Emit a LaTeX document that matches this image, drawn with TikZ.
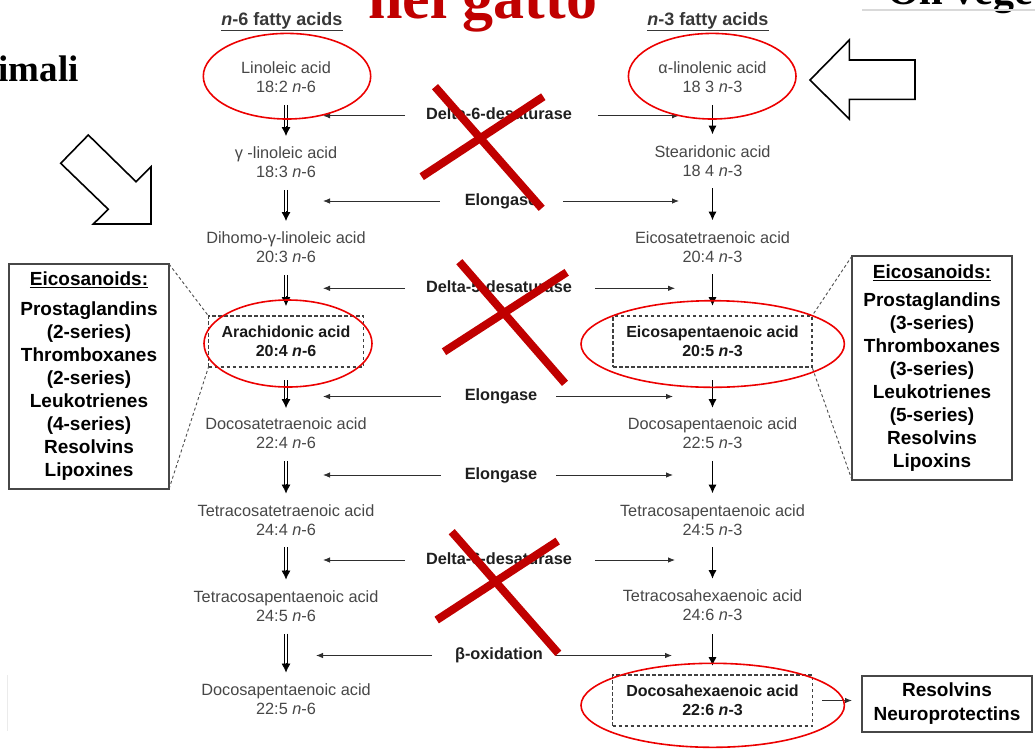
\documentclass[tikz,border=0pt]{standalone}
\usepackage{fontspec}
\setmainfont{Liberation Sans}
\newfontfamily\titlefont{Liberation Serif}
\usetikzlibrary{arrows.meta,calc}
\definecolor{xred}{RGB}{192,0,0}
\definecolor{ringred}{RGB}{236,0,0}
% from, to, start shorten, end shorten, shaft end shorten, tip start
\newcommand\dblarr[6]{%
  \draw[dshaft, shorten <=#3pt, shorten >=#5pt] (#1.south) -- (#2.north);
  \draw[dtip, shorten >=#4pt] ($(#2.north)!#6pt!(#1.south)$) -- (#2.north);}
\newcommand\sglarr[4]{\draw[sarrow, shorten <=#3pt, shorten >=#4pt] (#1.south) -- (#2.north);}
\begin{document}
\begin{tikzpicture}[x=1pt,y=-1pt,
 acid/.style={align=center,font=\fontsize{16.3}{19}\selectfont,text=black!72,inner sep=0pt,outer sep=0pt},
 acidbox/.style={align=center,font=\fontsize{16}{19.5}\selectfont\bfseries,text=black!90,draw=black!75,dash pattern=on 3.5pt off 2.5pt,line width=1.1pt,minimum height=51pt,inner sep=0pt,outer sep=0pt},
 enzlabel/.style={font=\fontsize{16.3}{19}\selectfont\bfseries,text=black!88,inner sep=0pt,outer sep=0pt,text height=12pt,text depth=3.5pt},
 colhead/.style={font=\fontsize{18}{20}\selectfont\bfseries,text=black!78,inner sep=0pt,anchor=base},
 harrow/.style={-{Latex[length=7pt,width=5.5pt]},line width=0.8pt,draw=black!82},
 sarrow/.style={-{Latex[length=9pt,width=8.5pt]},line width=1.8pt,draw=black},
 dshaft/.style={draw=black,line width=0.75pt,double=white,double distance=2.4pt},
 dtip/.style={-{Latex[length=9pt,width=9pt]},line width=0.75pt,draw=black},
 redring/.style={draw=ringred,line width=1.6pt},
 redcross/.style={draw=xred,line width=8pt},
 eibox/.style={draw=black!72,line width=1.2pt,align=center,font=\fontsize{19}{23}\selectfont\bfseries,text=black,minimum width=160pt,inner sep=0pt,outer sep=0pt},
 dashconn/.style={draw=black!70,line width=0.9pt,dash pattern=on 3pt off 2.5pt},
 blockarrow/.style={draw=black,line width=1.6pt,fill=white,line join=miter},
 titletext/.style={font=\fontsize{62}{66}\selectfont\titlefont\bfseries,text=xred,inner sep=0pt}
]
\useasboundingbox (0,0) rectangle (1035,748);
\clip (0,0) rectangle (1035,748);

% fragments of slide titles
\node[titletext, anchor=base west] (ttl) at (368,18.3) {nel gatto};
\node[font=\fontsize{37}{40}\selectfont\titlefont\bfseries, inner sep=0pt, anchor=base east] (lft) at (79,81.7) {imali};
\node[font=\fontsize{42}{44}\selectfont\titlefont\bfseries, inner sep=0pt, anchor=base west] (rgt) at (887,4) {Oli vege};
\draw[black!15, line width=1.5pt] (862,10) -- (1035,10);
\draw[black!8, line width=1pt] (7,675) -- (7,731);

% column headers
\node[colhead] (h6) at (282,25) {\underline{\textit{n}-6 fatty acids}};
\node[colhead] (h3) at (708,25) {\underline{\textit{n}-3 fatty acids}};

% n-6 column
\node[acid] (a1) at (286,77.5) {Linoleic acid\\18:2 \textit{n}-6};
\node[acid] (a2) at (286,162.5) {γ -linoleic acid\\18:3 \textit{n}-6};
\node[acid] (a3) at (286,247.5) {Dihomo-γ-linoleic acid\\20:3 \textit{n}-6};
\node[acidbox, minimum width=155pt] (a4) at (286,341.5) {Arachidonic acid\\20:4 \textit{n}-6};
\node[acid] (a5) at (286,433.5) {Docosatetraenoic acid\\22:4 \textit{n}-6};
\node[acid] (a6) at (286,520) {Tetracosatetraenoic acid\\24:4 \textit{n}-6};
\node[acid] (a7) at (286,606) {Tetracosapentaenoic acid\\24:5 \textit{n}-6};
\node[acid] (a8) at (286,699) {Docosapentaenoic acid\\22:5 \textit{n}-6};

% n-3 column
\node[acid] (b1) at (712.5,77.5) {α-linolenic acid\\18 3 \textit{n}-3};
\node[acid] (b2) at (712.5,161) {Stearidonic acid\\18 4 \textit{n}-3};
\node[acid] (b3) at (712.5,247) {Eicosatetraenoic acid\\20:4 \textit{n}-3};
\node[acidbox, minimum width=199pt] (b4) at (712.5,341.5) {Eicosapentaenoic acid\\20:5 \textit{n}-3};
\node[acid] (b5) at (712.5,433.5) {Docosapentaenoic acid\\22:5 \textit{n}-3};
\node[acid] (b6) at (712.5,520) {Tetracosapentaenoic acid\\24:5 \textit{n}-3};
\node[acid] (b7) at (712.5,605.5) {Tetracosahexaenoic acid\\24:6 \textit{n}-3};
\node[acidbox, minimum width=200pt] (b8) at (712.5,700.5) {Docosahexaenoic acid\\22:6 \textit{n}-3};

% vertical arrows n-6 (double)
\dblarr{a1}{a2}{12}{11}{19}{21}
\dblarr{a2}{a3}{12}{11}{19}{21}
\dblarr{a3}{a4}{12}{10}{18}{20}
\dblarr{a4}{a5}{13}{10}{18}{20}
\dblarr{a5}{a6}{12}{11}{19}{21}
\dblarr{a6}{a7}{12}{11}{19}{21}
\dblarr{a7}{a8}{12}{11}{19}{21}

% vertical arrows n-3 (single)
\sglarr{b1}{b2}{12}{11}
\sglarr{b2}{b3}{12}{11}
\sglarr{b3}{b4}{12}{10}
\sglarr{b4}{b5}{13}{10}
\sglarr{b5}{b6}{12}{11}
\sglarr{b6}{b7}{12}{11}
\sglarr{b7}{b8}{13}{9}

% enzymes
\node[enzlabel] (e1) at (499,115.7) {Delta-6-desaturase};
\node[enzlabel] (e2) at (501,201) {Elongase};
\node[enzlabel] (e3) at (499,288.3) {Delta-5-desaturase};
\node[enzlabel] (e4) at (501,396.5) {Elongase};
\node[enzlabel] (e5) at (501,475) {Elongase};
\node[enzlabel] (e6) at (499,560) {Delta-6-desaturase};
\node[enzlabel] (e7) at (499,655.5) {β-oxidation};

\coordinate (l1) at (323,115.7); \coordinate (r1) at (679,115.7);
\coordinate (l2) at (323,201);   \coordinate (r2) at (679,201);
\coordinate (l3) at (323,288.3); \coordinate (r3) at (675,288.3);
\coordinate (l4) at (323,396.5); \coordinate (r4) at (673,396.5);
\coordinate (l5) at (323,475);   \coordinate (r5) at (673,475);
\coordinate (l6) at (323,560);   \coordinate (r6) at (675,560);
\coordinate (l7) at (316,655.5); \coordinate (r7) at (672,655.5);

\draw[harrow, shorten <=21pt] (e1.west) -- (l1);
\draw[harrow, shorten <=26pt] (e1.east) -- (r1);
\draw[harrow, shorten <=25pt] (e2.west) -- (l2);
\draw[harrow, shorten <=26pt] (e2.east) -- (r2);
\draw[harrow, shorten <=21pt] (e3.west) -- (l3);
\draw[harrow, shorten <=23pt] (e3.east) -- (r3);
\draw[harrow, shorten <=24pt] (e4.west) -- (l4);
\draw[harrow, shorten <=19pt] (e4.east) -- (r4);
\draw[harrow, shorten <=24pt] (e5.west) -- (l5);
\draw[harrow, shorten <=19pt] (e5.east) -- (r5);
\draw[harrow, shorten <=21pt] (e6.west) -- (l6);
\draw[harrow, shorten <=23pt] (e6.east) -- (r6);
\draw[harrow, shorten <=23pt] (e7.west) -- (l7);
\draw[harrow, shorten <=13pt] (e7.east) -- (r7);

% eicosanoid boxes
\node[eibox, minimum height=225pt] (eL) at (89,376.5) {\underline{Eicosanoids:}\\[7pt]Prostaglandins\\(2-series)\\Thromboxanes\\(2-series)\\Leukotrienes\\(4-series)\\Resolvins\\Lipoxines};
\node[eibox, minimum height=224pt] (eR) at (932,368) {\underline{Eicosanoids:}\\[5pt]Prostaglandins\\(3-series)\\Thromboxanes\\(3-series)\\Leukotrienes\\(5-series)\\Resolvins\\Lipoxins};
\draw[dashconn] (eL.north east) -- (a4.north west);
\draw[dashconn] (eL.south east) -- (a4.south west);
\draw[dashconn] (eR.north west) -- (b4.north east);
\draw[dashconn] (eR.south west) -- (b4.south east);

% resolvins box
\node[draw=black!72, line width=1.2pt, align=center, font=\fontsize{19}{24}\selectfont\bfseries, minimum width=170pt, minimum height=56pt, inner sep=0pt, outer sep=0pt] (res) at (947,704) {Resolvins\\Neuroprotectins};
\draw[harrow, line width=1pt, shorten <=9.5pt, shorten >=10pt] (b8.east) -- (b8.east -| res.west);

% block arrows
\draw[blockarrow] (88.3,135) -- (136,181.7) -- (151,166.7) -- (151,224) -- (93.3,224) -- (108.3,209.3) -- (60.7,163.3) -- cycle;
\draw[blockarrow] (810,80) -- (849.3,40) -- (849.3,60) -- (915,60) -- (915,99.3) -- (849.3,99.3) -- (849.3,119) -- cycle;

% red rings
\draw[redring] (287,76.2) ellipse [x radius=83.7pt, y radius=42.8pt];
\draw[redring] (712.2,76.2) ellipse [x radius=83.8pt, y radius=42.8pt];
\draw[redring] (288,343.5) ellipse [x radius=84pt, y radius=43.5pt];
\draw[redring] (712.7,344) ellipse [x radius=131.7pt, y radius=43.3pt];
\draw[redring] (712.7,705.3) ellipse [x radius=131.7pt, y radius=42pt];

% red crosses
\draw[redcross] (435,86.7) -- (541.7,208.3);
\draw[redcross] (421.7,176.7) -- (543.3,96.7);
\draw[redcross] (459.3,261.7) -- (565,383.3);
\draw[redcross] (444,351.7) -- (566.7,272.3);
\draw[redcross] (451.7,531.7) -- (558.3,653.3);
\draw[redcross] (436.7,620) -- (557.7,541);
\end{tikzpicture}
\end{document}
